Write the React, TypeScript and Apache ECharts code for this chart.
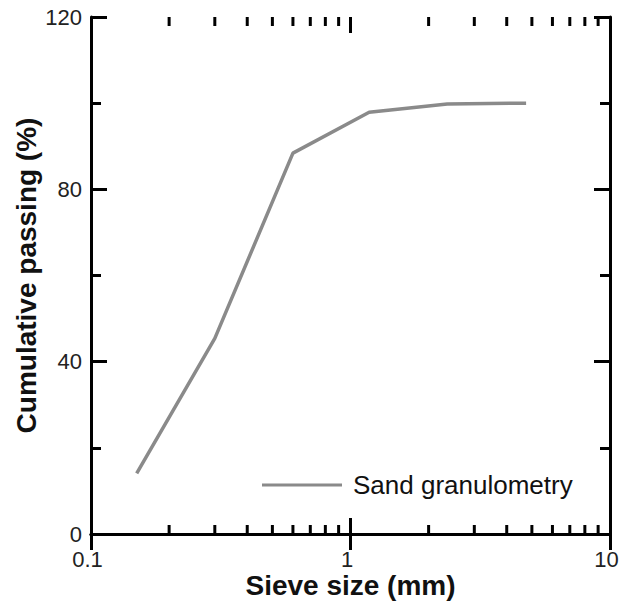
import React, { useEffect, useRef } from "react";
import * as echarts from "echarts";

const sieveSizes = [0.15, 0.3, 0.6, 1.18, 2.36, 4.75];
const passing = [14.1, 45.4, 88.4, 97.9, 99.8, 100];
const xMajorTicks = [1];
const xMinorTicks = [0.2, 0.3, 0.4, 0.5, 0.6, 0.7, 0.8, 0.9, 2, 3, 4, 5, 6, 7, 8, 9];
const seriesName = "Sand granulometry";
const xTitle = "Sieve size (mm)";
const yTitle = "Cumulative passing (%)";

const FONT = "Liberation Sans, Arial, sans-serif";
const yMin = 0;
const yMax = 120;

function tickSeries(name: string, values: number[], len: number) {
  return {
    name,
    type: "custom",
    xAxisIndex: 0,
    yAxisIndex: 0,
    silent: true,
    clip: false,
    data: values.map((v) => [v, yMax / 2]),
    encode: { x: 0, y: 1 },
    renderItem: (_params: any, api: any) => {
      const v = api.value(0);
      const b = api.coord([v, yMin]);
      const t = api.coord([v, yMax]);
      const st = { stroke: "#000", lineWidth: 3 };
      return {
        type: "group",
        children: [
          { type: "line", shape: { x1: b[0], y1: b[1], x2: b[0], y2: b[1] - len }, style: st },
          { type: "line", shape: { x1: t[0], y1: t[1], x2: t[0], y2: t[1] + len }, style: st },
        ],
      };
    },
    z: 4,
  };
}

export default function App() {
  const ref = useRef<HTMLDivElement>(null);
  useEffect(() => {
    if (!ref.current) return;
    const chart = echarts.init(ref.current, null, { renderer: "svg" });
    const axisLine = { show: true, lineStyle: { color: "#000", width: 3 } };
    const majorTick = { show: true, inside: true, length: 16, lineStyle: { color: "#000", width: 3 } };
    const minorTick = { show: true, splitNumber: 2, length: 10, lineStyle: { color: "#000", width: 3 } };
    chart.setOption({
      animation: false,
      backgroundColor: "#fff",
      grid: { left: 91, top: 17, right: 17, bottom: 70, containLabel: false },
      legend: {
        data: [seriesName],
        left: 262,
        top: 472,
        padding: 0,
        icon: "rect",
        itemWidth: 80,
        itemHeight: 3,
        itemGap: 0,
        itemStyle: { color: "#8a8a8a" },
        textStyle: { fontFamily: FONT, fontSize: 26, color: "#111", padding: [0, 0, 0, 6] },
      },
      xAxis: [
        {
          type: "log",
          logBase: 10,
          min: 0.1,
          max: 10,
          position: "bottom",
          name: xTitle,
          nameLocation: "middle",
          nameGap: 37,
          nameMoveOverlap: false,
          nameTextStyle: { fontFamily: FONT, fontSize: 28, fontWeight: "bold", color: "#111" },
          axisLine,
          axisTick: majorTick,
          axisLabel: { fontFamily: FONT, fontSize: 22, color: "#222", margin: 14, padding: [0, 7, 0, 0] },
          splitLine: { show: false },
        },
        {
          type: "log",
          logBase: 10,
          min: 0.1,
          max: 10,
          position: "top",
          axisLine,
          axisTick: majorTick,
          axisLabel: { show: false },
          splitLine: { show: false },
        },
      ],
      yAxis: [
        {
          type: "value",
          min: yMin,
          max: yMax,
          interval: 40,
          position: "left",
          name: yTitle,
          nameLocation: "middle",
          nameGap: 51,
          nameMoveOverlap: false,
          nameTextStyle: { fontFamily: FONT, fontSize: 28, fontWeight: "bold", color: "#111" },
          axisLine,
          axisTick: majorTick,
          minorTick,
          axisLabel: { fontFamily: FONT, fontSize: 22, color: "#222", margin: 9 },
          splitLine: { show: false },
          minorSplitLine: { show: false },
        },
        {
          type: "value",
          min: yMin,
          max: yMax,
          interval: 40,
          position: "right",
          axisLine,
          axisTick: majorTick,
          minorTick,
          axisLabel: { show: false },
          splitLine: { show: false },
          minorSplitLine: { show: false },
        },
      ],
      series: [
        {
          name: seriesName,
          type: "line",
          xAxisIndex: 0,
          yAxisIndex: 0,
          data: sieveSizes.map((x, i) => [x, passing[i]]),
          symbol: "none",
          showSymbol: false,
          lineStyle: { color: "#8a8a8a", width: 3.5 },
          itemStyle: { color: "#8a8a8a" },
          z: 3,
        },
        tickSeries("xMajorTicks", xMajorTicks, 16),
        tickSeries("xMinorTicks", xMinorTicks, 9),
      ],
    });
    return () => chart.dispose();
  }, []);
  return (
    <div
      ref={ref}
      style={{ position: "fixed", left: 0, top: 0, width: 627, height: 604, background: "#fff" }}
    />
  );
}
